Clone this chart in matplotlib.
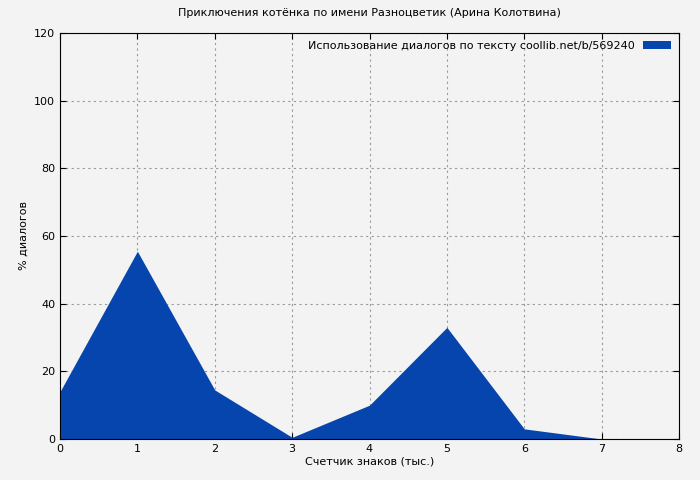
import matplotlib
matplotlib.use('Agg')
import matplotlib.pyplot as plt

x = [0, 1, 2, 3, 4, 5, 6, 7, 8]
dialog_pct = [14, 55.5, 14.5, 0.5, 10, 33, 3, 0, 0]
xticks = [0, 1, 2, 3, 4, 5, 6, 7, 8]
yticks = [0, 20, 40, 60, 80, 100, 120]

fig = plt.figure(figsize=(7, 4.8), dpi=100, facecolor='#f3f3f3')
ax = fig.add_axes([60/700, 41/480, 619/700, 406/480])
ax.set_facecolor('#f3f3f3')

ax.fill_between(x, dialog_pct, 0, color='#0645ad', linewidth=0,
                label='Использование диалогов по тексту coollib.net/b/569240')

ax.set_xlim(0, 8)
ax.set_ylim(0, 120)
ax.set_xticks(xticks)
ax.set_yticks(yticks)
ax.tick_params(labelsize=8, direction='in', length=4, top=True, right=True)
ax.grid(True, color='#999999', linestyle=(0, (2, 3)), linewidth=0.8)
ax.set_axisbelow(True)

ax.set_title('Приключения котёнка по имени Разноцветик (Арина Колотвина)', fontsize=8, pad=12)
ax.set_xlabel('Счетчик знаков (тыс.)', fontsize=8, labelpad=2)
ax.set_ylabel('% диалогов', fontsize=8)

leg = ax.legend(loc='upper right', fontsize=8, frameon=False, handlelength=2.5,
                markerfirst=False, borderaxespad=0.3)

fig.savefig('out.png', dpi=100, facecolor=fig.get_facecolor())
